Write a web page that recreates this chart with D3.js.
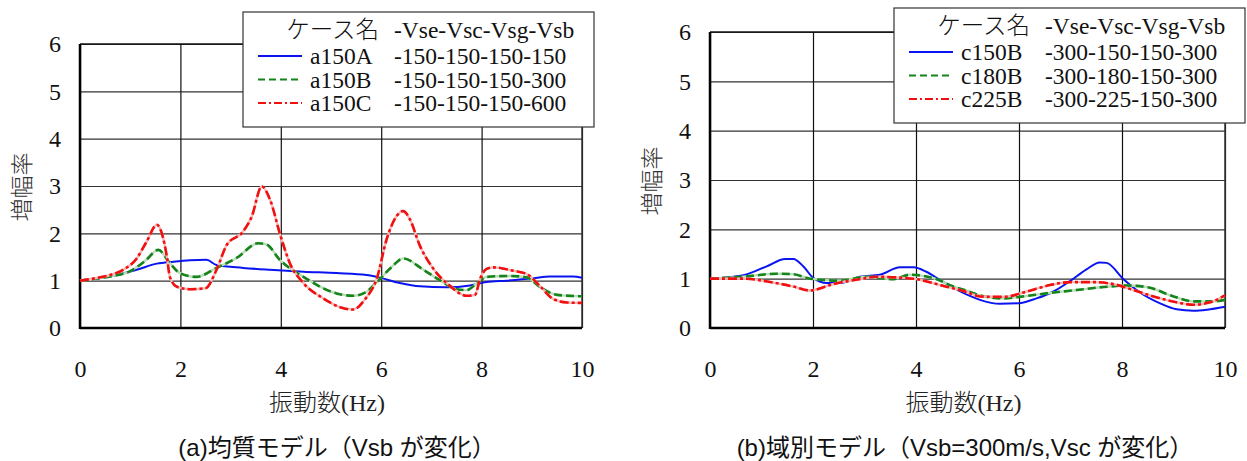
<!DOCTYPE html>
<html>
  <head>
    <meta charset="utf-8">
    <script src="https://cdn.jsdelivr.net/npm/d3@7/dist/d3.min.js"></script>
    <style>
      body { margin: 0; background: #fff; }
      svg { display: block; }
      .tick text { font-family: "Liberation Serif", serif; font-size: 24px; fill: #111; }
      .grid .tick line { stroke: #333; stroke-width: 1.2px; }
      .grid path.domain { display: none; }
      .legend text { font-family: "Liberation Serif", "Noto Sans CJK JP", serif; font-size: 23.5px; font-weight: 300; fill: #111; }
      .xtitle { font-family: "Liberation Serif", "Noto Sans CJK JP", serif; font-size: 24px; font-weight: 300; fill: #222; }
      .ytitle { font-family: "Noto Sans CJK JP", sans-serif; font-size: 23px; font-weight: 300; fill: #333; }
      .caption { font-family: "Liberation Sans", "Noto Sans CJK JP", sans-serif; font-size: 24px; fill: #111; }
    </style>
  </head>
  <body>
    <svg id="chart" width="1247" height="461"></svg>
    <script>
      // tick values
      var xTicks = [0, 2, 4, 6, 8, 10];
      var yTicks = [0, 1, 2, 3, 4, 5, 6];

      // (a) 均質モデル
      var a150A_f = [0, 0.3, 0.65, 1.13, 1.53, 1.86, 2.19, 2.52, 2.72, 3.25, 3.78, 4.45, 5.11, 5.71, 5.91, 6.37, 6.77, 7.3, 7.77, 8.1, 8.5, 9.03, 9.36, 9.82, 10];
      var a150A_v = [1.0, 1.04, 1.1, 1.23, 1.36, 1.4, 1.43, 1.44, 1.33, 1.27, 1.23, 1.19, 1.16, 1.12, 1.08, 0.95, 0.88, 0.86, 0.9, 0.97, 1.0, 1.05, 1.09, 1.09, 1.06];
      var a150B_f = [0, 0.3, 0.65, 1.0, 1.3, 1.56, 1.79, 1.99, 2.32, 2.72, 3.12, 3.55, 3.72, 3.98, 4.45, 5.11, 5.44, 5.7, 5.94, 6.2, 6.44, 6.84, 7.17, 7.5, 7.7, 7.9, 8.1, 8.57, 8.9, 9.16, 9.5, 10];
      var a150B_v = [1.0, 1.04, 1.1, 1.2, 1.42, 1.65, 1.37, 1.16, 1.08, 1.27, 1.48, 1.79, 1.76, 1.44, 1.08, 0.73, 0.68, 0.76, 1.0, 1.28, 1.47, 1.23, 1.01, 0.82, 0.8, 0.94, 1.08, 1.1, 1.07, 0.87, 0.7, 0.67];
      var a150C_f = [0, 0.3, 0.6, 0.86, 1.13, 1.33, 1.53, 1.63, 1.73, 1.79, 1.93, 2.19, 2.5, 2.72, 2.92, 3.25, 3.42, 3.62, 3.79, 3.98, 4.18, 4.45, 4.84, 5.18, 5.44, 5.68, 5.91, 6.11, 6.31, 6.44, 6.57, 6.77, 7.04, 7.37, 7.7, 7.87, 7.97, 8.1, 8.23, 8.63, 8.9, 9.16, 9.43, 9.7, 10];
      var a150C_v = [1.0, 1.05, 1.12, 1.23, 1.47, 1.83, 2.18, 2.0, 1.51, 1.08, 0.87, 0.82, 0.84, 1.23, 1.75, 2.04, 2.35, 2.99, 2.7, 2.0, 1.37, 0.95, 0.63, 0.44, 0.39, 0.61, 1.04, 1.88, 2.37, 2.47, 2.3, 1.74, 1.25, 0.89, 0.68, 0.7, 1.04, 1.25, 1.28, 1.21, 1.14, 0.89, 0.61, 0.54, 0.53];

      // (b) 域別モデル
      var c150B_f = [0, 0.65, 1.1, 1.46, 1.62, 1.81, 2.01, 2.27, 2.52, 2.91, 3.3, 3.69, 3.95, 4.2, 4.47, 4.98, 5.24, 5.63, 5.99, 6.34, 6.67, 6.99, 7.31, 7.57, 7.7, 8.03, 8.35, 8.74, 9.06, 9.39, 9.65, 10];
      var c150B_v = [1.0, 1.07, 1.25, 1.4, 1.4, 1.25, 1.01, 0.91, 0.91, 1.04, 1.08, 1.23, 1.23, 1.14, 0.97, 0.68, 0.57, 0.49, 0.5, 0.6, 0.74, 0.95, 1.19, 1.33, 1.32, 0.99, 0.72, 0.5, 0.38, 0.35, 0.37, 0.43];
      var c180B_f = [0, 0.65, 1.3, 1.62, 1.94, 2.52, 3.04, 3.56, 3.88, 4.34, 4.73, 5.0, 5.24, 5.69, 6.15, 6.67, 7.12, 7.64, 8.09, 8.48, 9.0, 9.39, 9.78, 10];
      var c180B_v = [1.0, 1.04, 1.1, 1.09, 1.0, 0.96, 1.04, 0.99, 1.08, 1.01, 0.84, 0.75, 0.66, 0.6, 0.65, 0.72, 0.77, 0.83, 0.86, 0.83, 0.64, 0.54, 0.54, 0.57];
      var c225B_f = [0, 0.65, 1.23, 1.62, 1.94, 2.39, 2.91, 3.24, 3.69, 4.01, 4.47, 4.98, 5.24, 5.69, 6.15, 6.6, 6.99, 7.44, 7.83, 8.22, 8.61, 9.06, 9.39, 9.71, 10];
      var c225B_v = [1.0, 1.0, 0.92, 0.84, 0.76, 0.89, 0.99, 1.04, 1.02, 0.99, 0.87, 0.73, 0.64, 0.63, 0.74, 0.87, 0.93, 0.93, 0.89, 0.77, 0.64, 0.52, 0.47, 0.52, 0.66];

      var namesA = ["a150A", "a150B", "a150C"];
      var valuesA = ["-150-150-150-150", "-150-150-150-300", "-150-150-150-600"];
      var namesB = ["c150B", "c180B", "c225B"];
      var valuesB = ["-300-150-150-300", "-300-180-150-300", "-300-225-150-300"];
      var legendHead = ["ケース名", "-Vse-Vsc-Vsg-Vsb"];
      var captionA = "(a)均質モデル（Vsb が変化）";
      var captionB = "(b)域別モデル（Vsb=300m/s,Vsc が変化）";

      var styles = [
        { color: "#0a14f0", under: null, dash: null, width: 2, legendDash: null },
        { color: "#15841a", under: "#b9ddb9", dash: "8,4", width: 2.6, legendDash: "7,4" },
        { color: "#f01010", under: "#f8b8b8", dash: "9,3,3,3", width: 2.6, legendDash: "8,3,2,3" }
      ];

      var svg = d3.select("#chart");

      function panel(p) {
        var x = d3.scaleLinear().domain([0, 10]).range([p.left, p.right]);
        var y = d3.scaleLinear().domain([0, 6]).range([p.bottom, p.top]);
        var w = p.right - p.left, h = p.bottom - p.top;
        var g = svg.append("g");

        // grid + tick labels
        g.append("g").attr("class", "grid")
          .attr("transform", "translate(" + p.left + ",0)")
          .call(d3.axisLeft(y).tickValues(yTicks).tickSize(-w).tickPadding(19).tickFormat(d3.format("d")));
        g.append("g").attr("class", "grid")
          .attr("transform", "translate(0," + p.bottom + ")")
          .call(d3.axisBottom(x).tickValues(xTicks).tickSize(-h).tickPadding(32).tickFormat(d3.format("d")))
          .selectAll(".tick line").style("stroke", "#111");

        // frame
        g.append("line").attr("x1", p.right).attr("x2", p.right).attr("y1", p.top).attr("y2", p.bottom)
          .style("stroke", "#333").style("stroke-width", 1.5);
        g.append("line").attr("x1", p.left).attr("x2", p.right).attr("y1", p.top).attr("y2", p.top)
          .style("stroke", "#111").style("stroke-width", 1.5);
        g.append("line").attr("x1", p.left).attr("x2", p.left).attr("y1", p.top).attr("y2", p.bottom + 1)
          .style("stroke", "#000").style("stroke-width", 2.5);
        g.append("line").attr("x1", p.left).attr("x2", p.right).attr("y1", p.bottom).attr("y2", p.bottom)
          .style("stroke", "#000").style("stroke-width", 2.5);

        // curves
        var line = d3.line().x(function(d) { return x(d[0]); }).y(function(d) { return y(d[1]); })
          .curve(d3.curveMonotoneX);
        p.series.forEach(function(s, i) {
          var st = styles[i];
          var pts = d3.zip(s[0], s[1]);
          if (st.under) {
            g.append("path").attr("d", line(pts)).style("fill", "none")
              .style("stroke", st.under).style("stroke-width", 2.4);
          }
          g.append("path").attr("d", line(pts)).style("fill", "none")
            .style("stroke", st.color).style("stroke-width", st.width)
            .style("stroke-dasharray", st.dash);
        });

        // legend
        var lg = g.append("g").attr("class", "legend").attr("transform", "translate(" + p.legX + "," + p.legY + ")");
        lg.append("rect").attr("width", 351).attr("height", 115)
          .style("fill", "#fff").style("stroke", "#333").style("stroke-width", 1.2);
        lg.append("text").attr("x", 136).attr("y", 26).attr("text-anchor", "end").text(legendHead[0]);
        lg.append("text").attr("x", 151).attr("y", 26).text(legendHead[1]);
        p.names.forEach(function(n, i) {
          var yy = 52 + i * 23.5;
          lg.append("line").attr("x1", 15).attr("x2", 59).attr("y1", yy - 8).attr("y2", yy - 8)
            .style("stroke", styles[i].color).style("stroke-width", 2)
            .style("stroke-dasharray", styles[i].legendDash);
          lg.append("text").attr("x", 67).attr("y", yy).text(n);
          lg.append("text").attr("x", 151).attr("y", yy).text(p.values[i]);
        });

        // titles
        var cx = (p.left + p.right) / 2;
        g.append("text").attr("class", "xtitle").attr("x", cx - 4).attr("y", 411)
          .attr("text-anchor", "middle").text("振動数(Hz)");
        g.append("text").attr("class", "ytitle")
          .attr("transform", "translate(" + (p.left - 50) + "," + p.yTitleY + ") rotate(-90)")
          .attr("text-anchor", "middle").text("増幅率");
        g.append("text").attr("class", "caption").attr("x", p.capX).attr("y", 456)
          .attr("text-anchor", "middle").text(p.caption);
      }

      panel({
        left: 80, right: 582, top: 44, bottom: 328,
        legX: 243, legY: 12, yTitleY: 187, capX: 337,
        series: [[a150A_f, a150A_v], [a150B_f, a150B_v], [a150C_f, a150C_v]],
        names: namesA, values: valuesA, caption: captionA
      });
      panel({
        left: 710, right: 1225, top: 32, bottom: 328,
        legX: 894, legY: 8, yTitleY: 181, capX: 965,
        series: [[c150B_f, c150B_v], [c180B_f, c180B_v], [c225B_f, c225B_v]],
        names: namesB, values: valuesB, caption: captionB
      });
    </script>
  </body>
</html>
